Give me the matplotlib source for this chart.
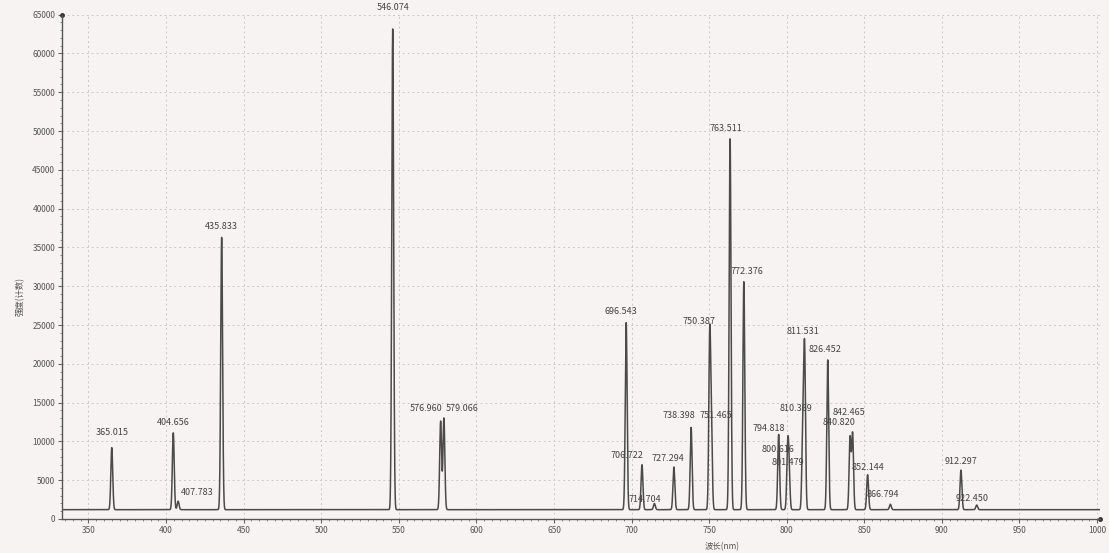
import numpy as np
import matplotlib
matplotlib.use("Agg")
import matplotlib.pyplot as plt
from matplotlib.ticker import MultipleLocator

plt.rcParams['font.family'] = ['Noto Sans CJK SC', 'DejaVu Sans']

# ---------------------------------------------------------------- data
peak_nm = [365.015, 404.656, 407.783, 435.833, 546.074, 576.960, 579.066,
           696.543, 706.722, 714.704, 727.294, 738.398, 750.387, 751.465,
           763.511, 772.376, 794.818, 800.616, 801.479, 810.369, 811.531,
           826.452, 840.820, 842.465, 852.144, 866.794, 912.297, 922.450]
peak_counts = [9200, 11100, 2300, 36300, 63200, 12600, 13000,
               25300, 7000, 2000, 6700, 11800, 23100, 10000,
               49000, 30600, 10900, 8500, 6000, 11000, 21500,
               20500, 10500, 11000, 5700, 1900, 6300, 1800]
peak_labels = ["365.015", "404.656", "407.783", "435.833", "546.074", "576.960", "579.066",
               "696.543", "706.722", "714.704", "727.294", "738.398", "750.387", "751.465",
               "763.511", "772.376", "794.818", "800.616", "801.479", "810.369", "811.531",
               "826.452", "840.820", "842.465", "852.144", "866.794", "912.297", "922.450"]
baseline_counts = 1200

# label placement (nm offset from the peak, label height in counts)
label_dx = [0, 0, 12, 0, 0, -9.5, 12,
            -3.2, -9.7, -6.4, -3.9, -7.7, -7, 3,
            -2.6, 2, -6.4, -6.4, -0.6, -4.5, -1.3,
            -2, -7, -2, 0, -5, 0, -3]
label_y = [11100, 12400, 3400, 37700, 65900, 14300, 14300,
           26700, 8200, 2500, 7800, 13300, 25400, 13300,
           50300, 31900, 11700, 9000, 7300, 14300, 24100,
           21900, 12400, 13700, 6600, 3100, 7400, 2700]

# ---------------------------------------------------------------- spectrum
wl = np.arange(333, 1002, 0.05)
sigma = 0.6
counts = np.full_like(wl, baseline_counts, dtype=float)
for p, h in zip(peak_nm, peak_counts):
    counts += (h - baseline_counts) * np.exp(-(wl - p) ** 2 / (2 * sigma ** 2))

# ---------------------------------------------------------------- figure
bg = '#f7f3f2'
fig = plt.figure(figsize=(11.09, 5.53), dpi=100, facecolor=bg)
ax = fig.add_axes([0.056, 0.0615, 0.936, 0.912], facecolor=bg)

ax.plot(wl, counts, color='#4a4a4a', lw=1.1)

for p, lab, dx, y in zip(peak_nm, peak_labels, label_dx, label_y):
    ax.text(p + dx, y, lab, ha='center', va='center', fontsize=6.5,
            color='#444444', clip_on=False)

ax.set_xlim(333, 1002)
ax.set_ylim(0, 65000)
ax.xaxis.set_major_locator(MultipleLocator(50))
ax.yaxis.set_major_locator(MultipleLocator(5000))
ax.xaxis.set_minor_locator(MultipleLocator(5))
ax.yaxis.set_minor_locator(MultipleLocator(1000))

ax.grid(True, which='major', color='#cdc8c8', ls=(0, (2, 3)), lw=0.7)
ax.set_axisbelow(True)

for s in ['top', 'right']:
    ax.spines[s].set_visible(False)
for s in ['left', 'bottom']:
    ax.spines[s].set_color('#555555')
    ax.spines[s].set_linewidth(1.0)

ax.tick_params(which='major', length=3, width=0.8, color='#666666',
               labelsize=6, labelcolor='#555555', pad=2)
ax.tick_params(which='minor', length=1.5, width=0.6, color='#777777')

# small end markers on the axes
ax.plot([333], [65000], marker='o', ms=2.5, color='#333333', clip_on=False)
ax.plot([1002], [0], marker='o', ms=2.5, color='#333333', clip_on=False)

fig.text(20 / 1109, 1 - 297 / 553, '强度(计数)', rotation=90, ha='center',
         va='center', fontsize=6, color='#555555')
fig.text(722 / 1109, 1 - 547 / 553, '波长(nm)', ha='center', va='center',
         fontsize=6, color='#555555')

fig.savefig('out.png', dpi=100, facecolor=bg)
